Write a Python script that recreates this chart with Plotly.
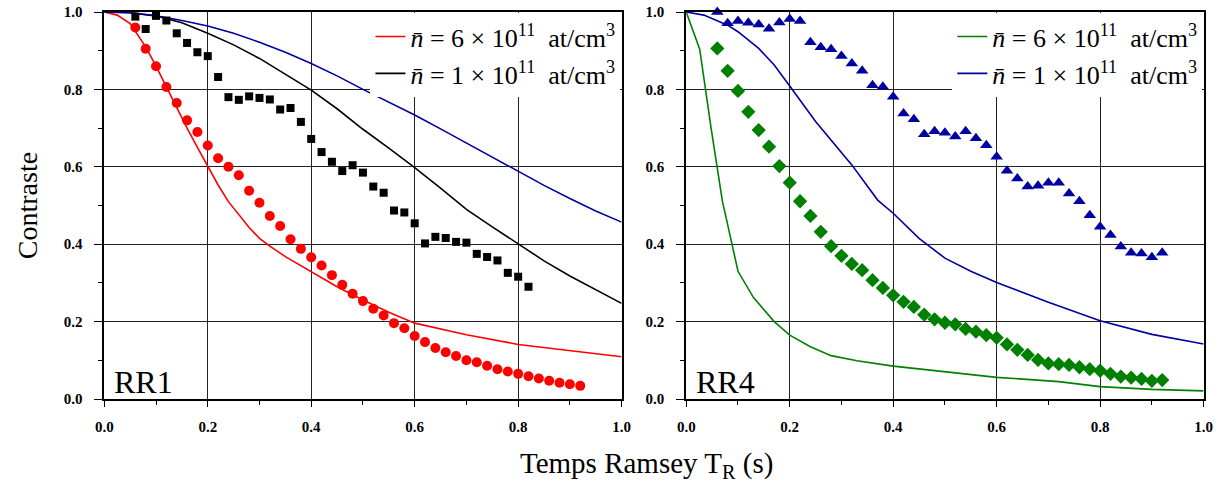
import plotly.graph_objects as go

# ---------------- data ----------------
# Left panel (RR1)
th_x_left = [0.0, 0.025, 0.05, 0.08, 0.10, 0.12, 0.14, 0.16, 0.18, 0.20, 0.22, 0.24, 0.26, 0.28, 0.30,
             0.32, 0.35, 0.40, 0.45, 0.50, 0.55, 0.60, 0.70, 0.80, 0.90, 1.0]
red_theory = [1.0, 0.992, 0.97, 0.91, 0.86, 0.806, 0.752, 0.70, 0.65, 0.60, 0.553, 0.51, 0.475, 0.443, 0.415,
              0.395, 0.368, 0.329, 0.29, 0.256, 0.224, 0.196, 0.166, 0.141, 0.125, 0.109]

th_x_grid = [0.0, 0.05, 0.10, 0.15, 0.20, 0.25, 0.30, 0.35, 0.40, 0.45, 0.50, 0.55, 0.60, 0.65, 0.70,
             0.75, 0.80, 0.85, 0.90, 0.95, 1.0]
black_theory = [1.0, 0.998, 0.99, 0.972, 0.945, 0.915, 0.88, 0.84, 0.798, 0.75, 0.697, 0.648, 0.598, 0.545, 0.49,
                0.445, 0.40, 0.357, 0.318, 0.282, 0.247]
blue_theory_left = [1.0, 0.998, 0.99, 0.978, 0.964, 0.945, 0.922, 0.896, 0.867, 0.835, 0.80, 0.767, 0.734, 0.698, 0.661,
                    0.624, 0.587, 0.552, 0.518, 0.486, 0.457]

red_x = [0.06, 0.08, 0.10, 0.12, 0.14, 0.16, 0.18, 0.20, 0.22, 0.24, 0.26, 0.28, 0.30, 0.32, 0.34, 0.36,
         0.38, 0.40, 0.42, 0.44, 0.46, 0.48, 0.50, 0.52, 0.54, 0.56, 0.58, 0.60, 0.62, 0.64, 0.66, 0.68,
         0.70, 0.72, 0.74, 0.76, 0.78, 0.80, 0.82, 0.84, 0.86, 0.88, 0.90, 0.92]
red_y = [0.96, 0.905, 0.86, 0.806, 0.765, 0.72, 0.69, 0.655, 0.622, 0.60, 0.578, 0.538, 0.507, 0.473, 0.447, 0.413,
         0.388, 0.366, 0.345, 0.320, 0.295, 0.272, 0.253, 0.233, 0.216, 0.196, 0.183, 0.163, 0.147, 0.132, 0.121, 0.111,
         0.100, 0.095, 0.086, 0.077, 0.071, 0.065, 0.059, 0.053, 0.047, 0.042, 0.038, 0.034]

black_x = [0.06, 0.08, 0.10, 0.12, 0.14, 0.16, 0.18, 0.20, 0.22, 0.24, 0.26, 0.28, 0.30, 0.32, 0.34, 0.36,
           0.38, 0.40, 0.42, 0.44, 0.46, 0.48, 0.50, 0.52, 0.54, 0.56, 0.58, 0.60, 0.62, 0.64, 0.66, 0.68,
           0.70, 0.72, 0.74, 0.76, 0.78, 0.80, 0.82]
black_y = [0.988, 0.956, 0.990, 0.978, 0.945, 0.920, 0.896, 0.886, 0.832, 0.780, 0.773, 0.782, 0.778, 0.774, 0.748, 0.752,
           0.716, 0.672, 0.638, 0.613, 0.589, 0.604, 0.585, 0.549, 0.533, 0.487, 0.482, 0.454, 0.402, 0.419, 0.416, 0.406,
           0.404, 0.375, 0.367, 0.358, 0.326, 0.316, 0.290]

# Right panel (RR4)
green_th_x = [0.0, 0.026, 0.048, 0.07, 0.078, 0.10, 0.13, 0.17, 0.20, 0.24, 0.28, 0.33, 0.40, 0.50, 0.60,
              0.72, 0.80, 0.90, 1.0]
green_theory = [1.0, 0.904, 0.70, 0.51, 0.463, 0.33, 0.262, 0.20, 0.165, 0.135, 0.112, 0.099, 0.085, 0.07, 0.056,
                0.045, 0.032, 0.025, 0.021]

blue_th_x = [0.0, 0.034, 0.08, 0.10, 0.14, 0.17, 0.20, 0.25, 0.32, 0.37, 0.40, 0.45, 0.50, 0.55, 0.60,
             0.70, 0.80, 0.90, 1.0]
blue_theory_right = [1.0, 0.992, 0.966, 0.949, 0.906, 0.863, 0.809, 0.717, 0.605, 0.514, 0.48, 0.415, 0.364, 0.33, 0.301,
                     0.25, 0.202, 0.167, 0.142]

tri_x = red_x
tri_y = [1.0, 0.971, 0.977, 0.972, 0.968, 0.957, 0.973, 0.982, 0.977, 0.922, 0.909, 0.904, 0.886, 0.867, 0.848, 0.811,
         0.807, 0.781, 0.738, 0.723, 0.684, 0.692, 0.688, 0.678, 0.692, 0.674, 0.656, 0.626, 0.590, 0.570, 0.549, 0.551,
         0.559, 0.559, 0.531, 0.511, 0.475, 0.445, 0.424, 0.394, 0.378, 0.376, 0.366, 0.378]

dia_x = red_x
dia_y = [0.906, 0.848, 0.796, 0.742, 0.695, 0.652, 0.602, 0.559, 0.511, 0.473, 0.432, 0.395, 0.370, 0.349, 0.333, 0.307,
         0.287, 0.268, 0.251, 0.238, 0.218, 0.206, 0.197, 0.193, 0.181, 0.174, 0.165, 0.158, 0.141, 0.127, 0.114, 0.101,
         0.092, 0.090, 0.088, 0.082, 0.077, 0.073, 0.065, 0.058, 0.055, 0.052, 0.047, 0.049]

tick_vals = [0.0, 0.2, 0.4, 0.6, 0.8, 1.0]
tick_text = ["0.0", "0.2", "0.4", "0.6", "0.8", "1.0"]

label_hi = "<i>n̄</i> = 6 × 10<sup>11</sup>&nbsp; at/cm<sup>3</sup>"
label_lo = "<i>n̄</i> = 1 × 10<sup>11</sup>&nbsp; at/cm<sup>3</sup>"

RED = "#ff0000"
BLACK = "#000000"
BLUE = "#0000a0"
GREEN = "#008000"

# ---------------- figure ----------------
fig = go.Figure()

# left panel
fig.add_trace(go.Scatter(x=th_x_left, y=red_theory, mode="lines", line=dict(color=RED, width=1.6),
                         name=label_hi, legend="legend", xaxis="x", yaxis="y"))
fig.add_trace(go.Scatter(x=th_x_grid, y=black_theory, mode="lines", line=dict(color=BLACK, width=1.6),
                         name=label_lo, legend="legend", xaxis="x", yaxis="y"))
fig.add_trace(go.Scatter(x=th_x_grid, y=blue_theory_left, mode="lines", line=dict(color=BLUE, width=1.6),
                         showlegend=False, xaxis="x", yaxis="y"))
fig.add_trace(go.Scatter(x=red_x, y=red_y, mode="markers", marker=dict(color=RED, size=10, symbol="circle"),
                         showlegend=False, xaxis="x", yaxis="y", cliponaxis=False))
fig.add_trace(go.Scatter(x=black_x, y=black_y, mode="markers", marker=dict(color=BLACK, size=8, symbol="square"),
                         showlegend=False, xaxis="x", yaxis="y", cliponaxis=False))

# right panel
fig.add_trace(go.Scatter(x=green_th_x, y=green_theory, mode="lines", line=dict(color=GREEN, width=1.6),
                         name=label_hi, legend="legend2", xaxis="x2", yaxis="y2"))
fig.add_trace(go.Scatter(x=blue_th_x, y=blue_theory_right, mode="lines", line=dict(color=BLUE, width=1.6),
                         name=label_lo, legend="legend2", xaxis="x2", yaxis="y2"))
fig.add_trace(go.Scatter(x=dia_x, y=dia_y, mode="markers", marker=dict(color=GREEN, size=11, symbol="diamond"),
                         showlegend=False, xaxis="x2", yaxis="y2", cliponaxis=False))
fig.add_trace(go.Scatter(x=tri_x, y=tri_y, mode="markers", marker=dict(color=BLUE, size=11, symbol="triangle-up"),
                         showlegend=False, xaxis="x2", yaxis="y2", cliponaxis=False))

W, H = 1232, 487
left_dom = [96.7 / W, 621.7 / W]
right_dom = [687.3 / W, 1212.3 / W]

tickfont = dict(family="Liberation Serif", size=15, color="black", weight="bold")
base_axis = dict(range=[0, 1], tickmode="array", tickvals=tick_vals, ticktext=tick_text,
                 ticks="outside", tickwidth=1.2, tickcolor="black",
                 showline=True, linecolor="black", linewidth=1.8, mirror=True,
                 showgrid=True, gridcolor="#222222", gridwidth=1, zeroline=False,
                 tickfont=tickfont)
x_axis = dict(base_axis, ticklen=6, ticklabelstandoff=7,
              minor=dict(dtick=0.1, ticks="outside", ticklen=4, tickcolor="black", showgrid=False))
y_axis = dict(base_axis, ticklen=8, ticklabelstandoff=9,
              minor=dict(dtick=0.1, ticks="outside", ticklen=4, tickcolor="black", showgrid=False))

legend_font = dict(family="Liberation Serif", size=26, color="black")

fig.update_layout(
    width=W, height=H,
    margin=dict(l=0, r=0, t=12, b=88),
    paper_bgcolor="white", plot_bgcolor="white",
    xaxis=dict(domain=left_dom, anchor="y", **x_axis),
    yaxis=dict(domain=[0, 1], anchor="x", **y_axis),
    xaxis2=dict(domain=right_dom, anchor="y2", **x_axis),
    yaxis2=dict(domain=[0, 1], anchor="x2", **y_axis),
    legend=dict(x=620.5 / W, xanchor="right", y=0.997, yanchor="top", bgcolor="white", borderwidth=0,
                font=legend_font, itemwidth=30, tracegroupgap=0),
    legend2=dict(x=1211 / W, xanchor="right", y=0.997, yanchor="top", bgcolor="white", borderwidth=0,
                 font=legend_font, itemwidth=30, tracegroupgap=0),
    showlegend=True,
)

fig.add_annotation(text="RR1", xref="x domain", yref="y domain", x=0.015, y=0.044, xanchor="left",
                   yanchor="middle", showarrow=False, font=dict(family="Liberation Serif", size=32, color="black"))
fig.add_annotation(text="RR4", xref="x2 domain", yref="y2 domain", x=0.015, y=0.044, xanchor="left",
                   yanchor="middle", showarrow=False, font=dict(family="Liberation Serif", size=32, color="black"))
fig.add_annotation(text="Contraste", xref="paper", yref="paper", x=19 / W, y=0.50, textangle=-90,
                   xanchor="center", yanchor="middle", showarrow=False,
                   font=dict(family="Liberation Serif", size=28, color="black"))
fig.add_annotation(text="Temps Ramsey T<sub>R</sub> (s)", xref="paper", yref="paper", x=647 / W, y=-0.17,
                   xanchor="center", yanchor="middle", showarrow=False,
                   font=dict(family="Liberation Serif", size=29, color="black"))

fig.write_html("out.html", config={"displayModeBar": False},
               post_script="document.body.style.margin='0';document.body.style.overflow='hidden';")
